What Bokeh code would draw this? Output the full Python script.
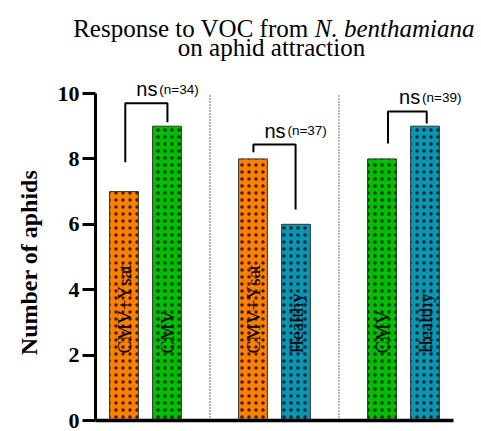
import math
from bokeh.plotting import figure
from bokeh.models import Range1d, FixedTicker, Label
from bokeh.core.properties import value
from bokeh.embed import file_html
from bokeh.resources import INLINE

# ---- data ----
positions = [0, 1, 3, 4, 6, 7]
bar_labels = ["CMV+Ysat", "CMV", "CMV+Ysat", "Healthy", "CMV", "Healthy"]
counts = [7, 9, 8, 6, 8, 9]
bar_colors = ["#FF7F00", "#00BE00", "#FF7F00", "#0C95B3", "#00BE00", "#0C95B3"]
separators = [2, 5]
y_ticks = [0, 2, 4, 6, 8, 10]

bracket_left_x = [0.03, 3.01, 6.14]
bracket_right_x = [1.01, 3.99, 7.04]
bracket_left_end = [7.9, 8.2, 8.47]
bracket_top = [9.7, 8.44, 9.45]
bracket_right_end = [9.12, 6.45, 9.08]
sig_text = ["ns", "ns", "ns"]
n_text = ["(n=34)", "(n=37)", "(n=39)"]

title_part1 = "Response to VOC from "
title_part2 = "N. benthamiana"
title_line2 = "on aphid attraction"
y_label = "Number of aphids"

# ---- figure (frame covers the whole canvas; axes placed with fixed_location) ----
W, H = 481, 431
px_x = 43.0          # pixels per x unit
px_y = 32.7          # pixels per y unit
x_start = -123.5 / px_x
y_start = -(H - 420) / px_y
x_axis_left = -0.66
x_axis_right = 7.66

p = figure(width=W, height=H, output_backend="svg", toolbar_location=None,
           x_range=Range1d(x_start, x_start + W / px_x),
           y_range=Range1d(y_start, y_start + H / px_y),
           min_border_left=0, min_border_right=0, min_border_top=0,
           min_border_bottom=0, background_fill_color="white",
           border_fill_color="white")
p.outline_line_color = None
p.grid.visible = False

serif = "Liberation Serif"
sans = "Liberation Sans"

# separators
p.segment(x0=separators, y0=0, x1=separators, y1=10, line_color="#444444",
          line_width=1.5, line_dash="1 2")

# bars
p.vbar(x=positions, top=counts, width=0.67, fill_color=bar_colors,
       line_color="#333333", line_width=1,
       hatch_pattern="dot", hatch_color="black", hatch_scale=7,
       hatch_weight=0.5, hatch_alpha=0.75)

# labels inside bars
p.text(x=positions, y=2.05, text=bar_labels, angle=math.pi / 2,
       text_align="left", text_baseline="middle",
       text_font=value(serif), text_font_size="19px", text_color="black")

# brackets
xs = [[l, l, r, r] for l, r in zip(bracket_left_x, bracket_right_x)]
ys = [[a, t, t, b] for a, t, b in zip(bracket_left_end, bracket_top, bracket_right_end)]
p.multi_line(xs=xs, ys=ys, line_color="black", line_width=2)

for lx, t, s, n in zip(bracket_left_x, bracket_top, sig_text, n_text):
    p.add_layout(Label(x=lx, y=t, x_offset=11, y_offset=14, text=s,
                       text_font=sans, text_font_size="20px", text_color="black",
                       text_baseline="alphabetic", text_align="left"))
    p.add_layout(Label(x=lx, y=t, x_offset=34, y_offset=14, text=n,
                       text_font=sans, text_font_size="13.5px", text_color="black",
                       text_baseline="alphabetic", text_align="left"))

# title (screen units: from bottom-left of the frame = canvas)
p.add_layout(Label(x=72.7, y=H - 28, x_units="screen", y_units="screen",
                   text=title_part1, text_font=serif, text_font_size="25px",
                   text_color="black", text_align="left", text_baseline="alphabetic"))
p.add_layout(Label(x=72.7 + 241.6, y=H - 28, x_units="screen", y_units="screen",
                   text=title_part2, text_font=serif, text_font_style="italic",
                   text_font_size="25px", text_color="black",
                   text_align="left", text_baseline="alphabetic"))
p.add_layout(Label(x=271, y=H - 46.5, x_units="screen", y_units="screen",
                   text=title_line2, text_font=serif, text_font_size="25px",
                   text_color="black", text_align="center", text_baseline="alphabetic"))

# y axis label
p.add_layout(Label(x=28, y=H - 262, x_units="screen", y_units="screen",
                   text=y_label, angle=math.pi / 2,
                   text_font=serif, text_font_style="bold", text_font_size="24px",
                   text_color="black", text_align="center", text_baseline="middle"))

# axes
ya = p.yaxis[0]
ya.fixed_location = x_axis_left
ya.ticker = FixedTicker(ticks=y_ticks)
ya.bounds = (0, 10)
ya.axis_line_width = 3
ya.major_tick_line_width = 3
ya.major_tick_out = 13
ya.major_tick_in = 0
ya.minor_tick_line_color = None
ya.major_label_text_font = serif
ya.major_label_text_font_style = "bold"
ya.major_label_text_font_size = "22px"
ya.major_label_standoff = 3
ya.major_label_text_color = "black"

xa = p.xaxis[0]
xa.fixed_location = 0
xa.ticker = FixedTicker(ticks=[])
xa.bounds = (x_axis_left, x_axis_right)
xa.axis_line_width = 3.5
xa.major_tick_line_color = None
xa.minor_tick_line_color = None
xa.major_label_text_font_size = "0px"

open("out.html", "w").write(file_html(p, INLINE))
